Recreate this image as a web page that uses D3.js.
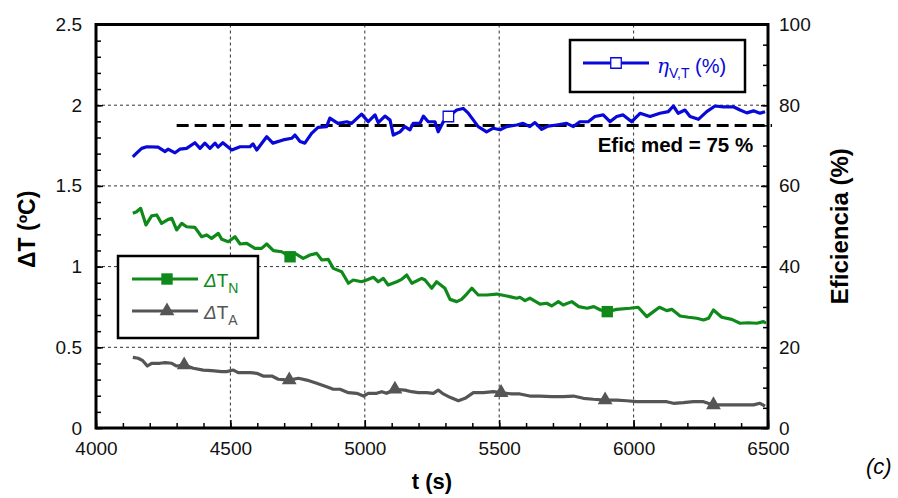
<!DOCTYPE html>
<html>
<head>
<meta charset="utf-8">
<script src="https://cdn.jsdelivr.net/npm/d3@7"></script>
<style>
  body { margin: 0; background: #fff; }
  svg { font-family: "Liberation Sans", Arial, sans-serif; }
</style>
</head>
<body>
<svg width="898" height="498"></svg>
<script>
// DATA
const effT = [4137, 4151, 4170, 4189, 4231, 4257, 4268, 4294, 4312, 4337, 4368, 4387, 4405, 4424, 4443, 4454, 4472, 4505, 4536, 4573, 4584, 4598, 4635, 4658, 4696, 4728, 4740, 4759, 4777, 4802, 4826, 4858, 4870, 4900, 4933, 4951, 4988, 5013, 5038, 5050, 5075, 5094, 5106, 5131, 5149, 5168, 5180, 5205, 5218, 5236, 5261, 5273, 5292, 5311, 5342, 5366, 5384, 5422, 5453, 5478, 5503, 5528, 5565, 5589, 5614, 5633, 5658, 5682, 5714, 5751, 5776, 5800, 5831, 5856, 5887, 5912, 5937, 5961, 5993, 6024, 6061, 6098, 6129, 6148, 6166, 6191, 6210, 6241, 6272, 6303, 6334, 6371, 6396, 6421, 6446, 6470, 6489];
const effV = [67.2, 68.1, 69.3, 69.7, 69.6, 68.5, 69.1, 68.2, 69.1, 69.3, 70.7, 69.3, 70.6, 69.3, 70.6, 69.6, 70.7, 68.9, 69.7, 69.7, 70.4, 68.9, 72.2, 70.6, 71.4, 71.8, 72.6, 71.0, 70.6, 73.0, 74.5, 74.7, 76.8, 75.5, 75.9, 75.5, 77.8, 75.9, 77.6, 75.7, 77.3, 76.3, 72.6, 73.4, 74.7, 73.9, 75.5, 75.5, 77.3, 75.9, 75.9, 73.4, 75.9, 77.2, 78.8, 79.2, 78.1, 74.7, 73.4, 74.3, 73.9, 74.7, 75.1, 75.5, 74.7, 75.7, 74.0, 74.8, 75.1, 75.5, 74.7, 75.9, 75.9, 77.2, 77.6, 75.9, 77.2, 77.6, 75.9, 78.0, 77.2, 78.0, 78.4, 79.8, 78.0, 78.8, 77.2, 76.5, 78.4, 79.8, 79.6, 79.6, 78.8, 78.1, 78.6, 78.0, 78.4];

const dtnT = [4137, 4151, 4166, 4186, 4207, 4226, 4244, 4269, 4282, 4300, 4319, 4337, 4368, 4393, 4412, 4430, 4455, 4468, 4492, 4517, 4536, 4561, 4591, 4616, 4635, 4660, 4691, 4722, 4740, 4771, 4796, 4821, 4840, 4864, 4883, 4914, 4939, 4957, 4988, 5007, 5032, 5050, 5069, 5087, 5119, 5137, 5156, 5175, 5212, 5224, 5249, 5267, 5298, 5317, 5342, 5360, 5379, 5398, 5422, 5453, 5491, 5528, 5565, 5577, 5596, 5614, 5652, 5677, 5695, 5720, 5738, 5770, 5796, 5827, 5852, 5877, 5902, 5937, 5986, 6017, 6049, 6074, 6096, 6123, 6142, 6173, 6204, 6235, 6260, 6279, 6297, 6328, 6365, 6396, 6427, 6458, 6483, 6493];
const dtnV = [1.330, 1.340, 1.361, 1.258, 1.314, 1.320, 1.268, 1.293, 1.299, 1.227, 1.268, 1.247, 1.243, 1.185, 1.196, 1.175, 1.206, 1.169, 1.154, 1.185, 1.140, 1.144, 1.113, 1.113, 1.140, 1.099, 1.092, 1.061, 1.082, 1.051, 1.072, 1.082, 1.041, 1.045, 0.989, 0.968, 0.897, 0.917, 0.906, 0.917, 0.934, 0.906, 0.927, 0.886, 0.906, 0.921, 0.948, 0.897, 0.927, 0.917, 0.866, 0.906, 0.866, 0.797, 0.783, 0.797, 0.830, 0.866, 0.824, 0.824, 0.830, 0.818, 0.804, 0.810, 0.789, 0.804, 0.768, 0.773, 0.756, 0.783, 0.762, 0.783, 0.752, 0.742, 0.752, 0.731, 0.721, 0.735, 0.742, 0.748, 0.690, 0.721, 0.748, 0.727, 0.735, 0.694, 0.686, 0.680, 0.669, 0.680, 0.731, 0.686, 0.673, 0.649, 0.652, 0.649, 0.659, 0.649];

const dtaT = [4137, 4157, 4174, 4191, 4207, 4238, 4257, 4282, 4300, 4328, 4362, 4399, 4430, 4468, 4486, 4511, 4529, 4573, 4598, 4622, 4654, 4678, 4719, 4753, 4784, 4821, 4858, 4883, 4908, 4939, 4970, 4995, 5013, 5044, 5063, 5081, 5112, 5149, 5174, 5199, 5230, 5255, 5273, 5292, 5317, 5348, 5373, 5404, 5441, 5478, 5507, 5546, 5577, 5614, 5652, 5695, 5738, 5776, 5813, 5850, 5894, 5937, 5974, 6011, 6049, 6086, 6123, 6148, 6185, 6222, 6260, 6297, 6334, 6383, 6421, 6446, 6470, 6489];
const dtaV = [0.438, 0.432, 0.417, 0.384, 0.401, 0.401, 0.405, 0.401, 0.384, 0.390, 0.370, 0.359, 0.355, 0.349, 0.349, 0.359, 0.343, 0.343, 0.339, 0.322, 0.322, 0.302, 0.297, 0.308, 0.297, 0.277, 0.256, 0.240, 0.240, 0.219, 0.215, 0.198, 0.215, 0.215, 0.225, 0.215, 0.240, 0.235, 0.225, 0.219, 0.219, 0.215, 0.235, 0.211, 0.190, 0.169, 0.184, 0.219, 0.219, 0.225, 0.219, 0.211, 0.211, 0.198, 0.198, 0.194, 0.194, 0.198, 0.184, 0.178, 0.173, 0.173, 0.169, 0.163, 0.163, 0.163, 0.163, 0.153, 0.157, 0.163, 0.163, 0.143, 0.143, 0.143, 0.143, 0.143, 0.153, 0.136];

// marker times (one symbol every few points)
const effMarkT = [5311];
const dtnMarkT = [4722, 5902];
const dtaMarkT = [4328, 4719, 5112, 5507, 5894, 6297];

const meanEff = 75;
const meanFrom = 4300, meanTo = 6515;

const xTicks = [4000, 4500, 5000, 5500, 6000, 6500];
const yTicks = [0, 0.5, 1, 1.5, 2, 2.5];
const yRTicks = [0, 20, 40, 60, 80, 100];

const blue = "#0808d8", green = "#0f8a1a", gray = "#555555";

const svg = d3.select("svg");
const margin = { top: 24.5, right: 130, bottom: 70, left: 96 };
const width = 898 - margin.left - margin.right;   // 672
const height = 498 - margin.top - margin.bottom;  // 403.5

const chart = svg.append("g")
    .attr("transform", `translate(${margin.left},${margin.top})`);

// SCALES
const x = d3.scaleLinear().domain([4000, 6500]).range([0, width]);
const y = d3.scaleLinear().domain([0, 2.5]).range([height, 0]);
const yR = d3.scaleLinear().domain([0, 100]).range([height, 0]);

// GRID
const grid = chart.append("g");
grid.selectAll("line.gx")
    .data(xTicks.slice(1, -1))
    .join("line")
    .attr("x1", d => x(d)).attr("x2", d => x(d))
    .attr("y1", 0).attr("y2", height);
grid.selectAll("line.gy")
    .data(yTicks.slice(1, -1))
    .join("line")
    .attr("y1", d => y(d)).attr("y2", d => y(d))
    .attr("x1", 0).attr("x2", width);
grid.selectAll("line")
    .attr("stroke", "#333")
    .attr("stroke-width", 1)
    .attr("stroke-dasharray", "3,3");

// AXES
function styleAxis(g) {
    g.select(".domain").remove();
    g.selectAll(".tick line").attr("stroke", "#000").attr("stroke-width", 1.5);
    g.selectAll(".tick text")
        .attr("font-size", "19px")
        .attr("font-family", "Liberation Sans, Arial, sans-serif")
        .attr("fill", "#111");
}

// minor ticks
chart.append("g")
    .attr("transform", `translate(0,${height})`)
    .call(d3.axisBottom(x).tickValues(d3.range(4000, 6501, 100)).tickSize(-5).tickFormat(""))
    .call(styleAxis);
chart.append("g")
    .call(d3.axisLeft(y).tickValues(d3.range(0, 2.51, 0.1)).tickSize(-5).tickFormat(""))
    .call(styleAxis);
chart.append("g")
    .attr("transform", `translate(${width},0)`)
    .call(d3.axisRight(yR).tickValues(d3.range(0, 101, 5)).tickSize(-5).tickFormat(""))
    .call(styleAxis);

// major ticks
chart.append("g")
    .attr("transform", `translate(0,${height})`)
    .call(d3.axisBottom(x).tickValues(xTicks).tickSize(-8).tickPadding(14).tickFormat(d3.format("d")))
    .call(styleAxis);
chart.append("g")
    .call(d3.axisLeft(y).tickValues(yTicks).tickSize(-7).tickPadding(14).tickFormat(d => d))
    .call(styleAxis);
chart.append("g")
    .attr("transform", `translate(${width},0)`)
    .call(d3.axisRight(yR).tickValues(yRTicks).tickSize(-7).tickPadding(11).tickFormat(d => d))
    .call(styleAxis);

// FRAME
chart.append("rect")
    .attr("width", width).attr("height", height)
    .attr("fill", "none").attr("stroke", "#000").attr("stroke-width", 3);

// MEAN LINE
chart.append("line")
    .attr("x1", x(meanFrom)).attr("x2", x(meanTo))
    .attr("y1", yR(meanEff)).attr("y2", yR(meanEff))
    .attr("stroke", "#000").attr("stroke-width", 3)
    .attr("stroke-dasharray", "12,6");

chart.append("text")
    .attr("x", x(6445)).attr("y", yR(meanEff) + 27)
    .attr("text-anchor", "end")
    .attr("font-size", "20.5px").attr("font-weight", "bold")
    .text(`Efic med = ${meanEff} %`);

// SERIES
const series = [
    { t: dtaT, v: dtaV, marks: dtaMarkT, scale: y, color: gray, sym: d3.symbolTriangle, fill: gray, size: 95 },
    { t: dtnT, v: dtnV, marks: dtnMarkT, scale: y, color: green, sym: d3.symbolSquare, fill: green, size: 130 },
    { t: effT, v: effV, marks: effMarkT, scale: yR, color: blue, sym: d3.symbolSquare, fill: "#fff", size: 110 }
];

series.forEach(s => {
    const pts = s.t.map((t, i) => [t, s.v[i]]);
    chart.append("path")
        .datum(pts)
        .attr("fill", "none")
        .attr("stroke", s.color)
        .attr("stroke-width", 3.2)
        .attr("stroke-linejoin", "round")
        .attr("d", d3.line().x(d => x(d[0])).y(d => s.scale(d[1])));

    const bis = d3.bisector(d => d[0]).left;
    chart.selectAll(null)
        .data(s.marks.map(m => pts[Math.min(bis(pts, m), pts.length - 1)]))
        .join("path")
        .attr("transform", d => `translate(${x(d[0])},${s.scale(d[1])})`)
        .attr("d", d3.symbol().type(s.sym).size(s.size))
        .attr("fill", s.fill)
        .attr("stroke", s.color)
        .attr("stroke-width", s.fill === "#fff" ? 1.3 : 0);
});

// LEGEND (efficiency)
const leg1 = svg.append("g").attr("transform", "translate(570,40)");
leg1.append("rect").attr("width", 175).attr("height", 52)
    .attr("fill", "#fff").attr("stroke", "#000").attr("stroke-width", 2.5);
leg1.append("line").attr("x1", 13).attr("x2", 79).attr("y1", 23).attr("y2", 23)
    .attr("stroke", blue).attr("stroke-width", 3);
leg1.append("path").attr("transform", "translate(46,23)")
    .attr("d", d3.symbol().type(d3.symbolSquare).size(110))
    .attr("fill", "#fff").attr("stroke", blue).attr("stroke-width", 1.3);
const t1 = leg1.append("text").attr("x", 87).attr("y", 33)
    .attr("fill", blue).attr("font-size", "20px");
t1.append("tspan").attr("font-style", "italic").attr("font-family", "DejaVu Serif, serif").text("η");
t1.append("tspan").attr("font-size", "14px").attr("dy", 5).text("V,T");
t1.append("tspan").attr("dy", -5).text(" (%)");

// LEGEND (temperatures)
const leg2 = svg.append("g").attr("transform", "translate(118,256)");
leg2.append("rect").attr("width", 140).attr("height", 82)
    .attr("fill", "#fff").attr("stroke", "#000").attr("stroke-width", 2.5);
const legItems = [
    { sub: "N", color: green, sym: d3.symbolSquare, size: 130, yy: 23 },
    { sub: "A", color: gray, sym: d3.symbolTriangle, size: 95, yy: 55 }
];
legItems.forEach(it => {
    leg2.append("line").attr("x1", 14).attr("x2", 80).attr("y1", it.yy).attr("y2", it.yy)
        .attr("stroke", it.color).attr("stroke-width", 3);
    leg2.append("path").attr("transform", `translate(49,${it.yy})`)
        .attr("d", d3.symbol().type(it.sym).size(it.size))
        .attr("fill", it.color);
    const tx = leg2.append("text").attr("x", 86).attr("y", it.yy + 8)
        .attr("fill", it.color).attr("font-size", "19px");
    tx.append("tspan").attr("font-style", "italic").attr("font-weight", "normal").text("Δ");
    tx.append("tspan").text("T");
    tx.append("tspan").attr("font-size", "14px").attr("dy", 6).text(it.sub);
});

// AXIS TITLES
svg.append("text")
    .attr("x", margin.left + width / 2).attr("y", 489)
    .attr("text-anchor", "middle")
    .attr("font-size", "22px").attr("font-weight", "bold")
    .text("t (s)");

svg.append("text")
    .attr("transform", `translate(35,${margin.top + height / 2 + 3}) rotate(-90)`)
    .attr("text-anchor", "middle")
    .attr("font-size", "23px").attr("font-weight", "bold")
    .text("ΔT (ºC)");

svg.append("text")
    .attr("transform", `translate(848,${margin.top + height / 2}) rotate(-90)`)
    .attr("text-anchor", "middle")
    .attr("font-size", "24px").attr("font-weight", "bold")
    .text("Eficiencia (%)");

svg.append("text")
    .attr("x", 866).attr("y", 474)
    .attr("font-size", "22px").attr("font-style", "italic")
    .text("(c)");
</script>
</body>
</html>
